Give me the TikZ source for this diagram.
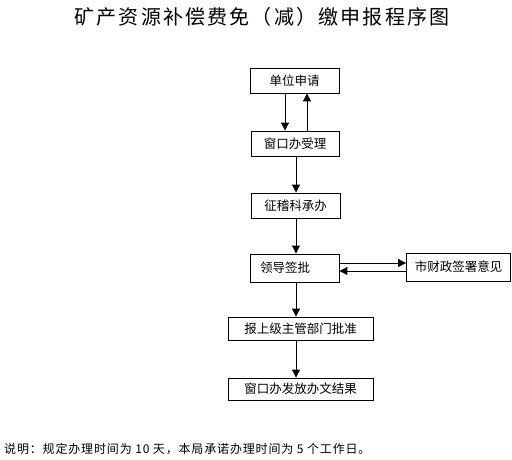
\documentclass[tikz,border=0pt]{standalone}
\usepackage{fontspec}
\setmainfont{Noto Sans CJK SC}
\usetikzlibrary{arrows.meta}
\begin{document}
\begin{tikzpicture}[x=1pt,y=-1pt,
  box/.style={draw=black,line width=0.9pt,inner sep=0pt,font=\fontsize{12.5}{14}\selectfont},
  arr/.style={draw=black,line width=1pt,-{Triangle[width=8pt,length=8pt]}}]
\useasboundingbox[fill=white] (0,0) rectangle (512,460);
\node[font=\fontsize{20}{24}\selectfont\addfontfeature{LetterSpace=11}] (title) at (262,17) {矿产资源补偿费免（减）缴申报程序图};
\node[box,minimum width=89pt,minimum height=25pt] (b1) at (294.5,80.5) {单位申请};
\node[box,minimum width=88pt,minimum height=25pt] (b2) at (295,143.5) {窗口办受理};
\node[box,minimum width=89pt,minimum height=25pt] (b3) at (295.5,205.5) {征稽科承办};
\node[box,minimum width=89pt,minimum height=28pt,text width=69pt,inner xsep=10pt,align=left] (b4) at (294.5,268) {领导签批};
\node[box,minimum width=104pt,minimum height=28pt] (b5) at (458.5,267) {市财政签署意见};
\node[box,minimum width=145pt,minimum height=23pt] (b6) at (300.5,328.5) {报上级主管部门批准};
\node[box,minimum width=145pt,minimum height=22pt] (b7) at (300.5,389) {窗口办发放办文结果};
\node[anchor=west,inner sep=0pt,font=\fontsize{12}{14}\selectfont\addfontfeature{LetterSpace=7}] (note) at (4,449) {说明：规定办理时间为 10 天，本局承诺办理时间为 5 个工作日。};
\coordinate (xa) at (285,0);
\coordinate (xb) at (307,0);
\coordinate (xc) at (296,0);
\coordinate (ya) at (0,263);
\coordinate (yb) at (0,271);
\draw[arr] (b1.south -| xa) -- (b2.north -| xa);
\draw[arr] (b2.north -| xb) -- (b1.south -| xb);
\draw[arr] (b2.south -| xc) -- (b3.north -| xc);
\draw[arr] (b3.south -| xc) -- (b4.north -| xc);
\draw[arr] (b4.east |- ya) -- (b5.west |- ya);
\draw[arr] (b5.west |- yb) -- (b4.east |- yb);
\draw[arr] (b4.south -| xc) -- (b6.north -| xc);
\draw[arr] (b6.south -| xc) -- (b7.north -| xc);
\end{tikzpicture}
\end{document}
